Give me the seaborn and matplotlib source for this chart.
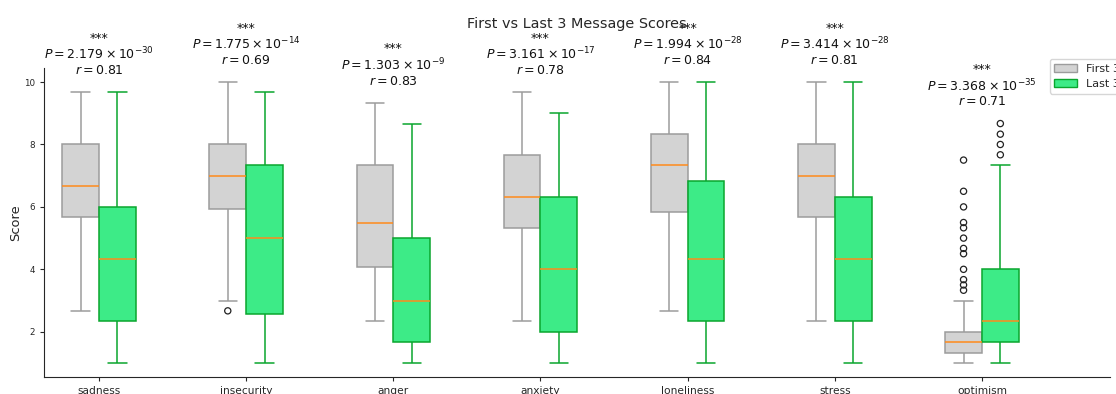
import numpy as np
import pandas as pd
import matplotlib
matplotlib.use("Agg")
import matplotlib.pyplot as plt
import seaborn as sns
from matplotlib.patches import Patch

# ---------------- data ----------------
categories = ["sadness", "insecurity", "anger", "anxiety", "loneliness", "stress", "optimism"]
groups = ["First 3 Messages", "Last 3 Messages"]

# five-number summaries: whisker low, Q1, median, Q3, whisker high
first_lo = [2.67, 3.00, 2.33, 2.33, 2.67, 2.33, 1.00]
first_q1 = [5.67, 5.92, 4.08, 5.33, 5.83, 5.67, 1.33]
first_med = [6.67, 7.00, 5.50, 6.33, 7.33, 7.00, 1.67]
first_q3 = [8.00, 8.00, 7.33, 7.67, 8.33, 8.00, 2.00]
first_hi = [9.67, 10.00, 9.33, 9.67, 10.00, 10.00, 3.00]

last_lo = [1.00, 1.00, 1.00, 1.00, 1.00, 1.00, 1.00]
last_q1 = [2.33, 2.58, 1.67, 2.00, 2.33, 2.33, 1.67]
last_med = [4.33, 5.00, 3.00, 4.00, 4.33, 4.33, 2.33]
last_q3 = [6.00, 7.33, 5.00, 6.33, 6.83, 6.33, 4.00]
last_hi = [9.67, 9.67, 8.67, 9.00, 10.00, 10.00, 7.33]

# outliers
first_outlier_cat = ["insecurity"] + ["optimism"] * 12
first_outlier_val = [2.67, 7.50, 6.50, 6.00, 5.50, 5.33, 5.00, 4.67, 4.50, 4.00, 3.67, 3.50, 3.33]
last_outlier_cat = ["optimism"] * 4
last_outlier_val = [8.67, 8.33, 8.00, 7.67]

# statistics annotations
p_mantissa = [2.179, 1.775, 1.303, 3.161, 1.994, 3.414, 3.368]
p_exponent = [-30, -14, -9, -17, -28, -28, -35]
r_values = [0.81, 0.69, 0.83, 0.78, 0.84, 0.81, 0.71]

# ---------------- styling ----------------
fill_colors = {groups[0]: "#d3d3d3", groups[1]: "#3deb87"}
edge_colors = {groups[0]: "#9c9c9c", groups[1]: "#0aa62e"}
median_color = "#ff8a1c"

sns.set_style("ticks")
plt.rcParams["font.family"] = ["DejaVu Sans"]

rows = []
summaries = {
    groups[0]: (first_lo, first_q1, first_med, first_q3, first_hi),
    groups[1]: (last_lo, last_q1, last_med, last_q3, last_hi),
}
for g, arrs in summaries.items():
    for i, c in enumerate(categories):
        for arr in arrs:
            rows.append({"category": c, "group": g, "score": arr[i]})
df = pd.DataFrame(rows)

fig = plt.figure(figsize=(11.16, 3.94), dpi=100)
ax = fig.add_axes([0.0394, 0.0431, 0.9552, 0.7843])

for g in groups:
    sub = df[df["group"] == g]
    sns.boxplot(
        data=sub, x="category", y="score", hue="group",
        order=categories, hue_order=groups, palette=fill_colors,
        saturation=1, width=0.5, dodge=True, whis=(0, 100),
        linecolor=edge_colors[g], linewidth=1.1, legend=False, ax=ax,
        medianprops={"color": median_color, "linewidth": 1.1},
    )

# outliers (hollow circles) at the dodged box positions
offsets = {groups[0]: -0.125, groups[1]: 0.125}
for g, cats, vals in [(groups[0], first_outlier_cat, first_outlier_val),
                      (groups[1], last_outlier_cat, last_outlier_val)]:
    xs = [categories.index(c) + offsets[g] for c in cats]
    sns.scatterplot(x=xs, y=vals, marker="o", s=20, facecolor="none",
                    edgecolor="#222222", linewidth=0.9, ax=ax, legend=False)

# annotation above each pair
all_hi = []
for i, c in enumerate(categories):
    vals = [first_hi[i], last_hi[i]]
    vals += [v for cc, v in zip(first_outlier_cat, first_outlier_val) if cc == c]
    vals += [v for cc, v in zip(last_outlier_cat, last_outlier_val) if cc == c]
    all_hi.append(max(vals))

for i, c in enumerate(categories):
    lines = ["***",
             rf"$P = {p_mantissa[i]:.3f} \times 10^{{{p_exponent[i]}}}$",
             rf"$r = {r_values[i]:.2f}$"]
    for k, (line, dy) in enumerate(zip(lines, [38.9, 27.4, 15.8])):
        ax.annotate(line, xy=(i, all_hi[i]), xytext=(0, dy), textcoords="offset points",
                    ha="center", va="center", fontsize=9.0, color="#111111")

ax.set_xlim(-0.374, 6.87)
ax.set_xlabel("")
ax.set_ylabel("Score", fontsize=9.4, labelpad=1)
ax.set_title("First vs Last 3 Message Scores", fontsize=10.4, pad=29)
ax.tick_params(axis="x", labelsize=7.7, length=3)
ax.tick_params(axis="y", labelsize=6.3, length=3)
sns.despine(ax=ax)

handles = [Patch(facecolor=fill_colors[g], edgecolor=edge_colors[g], label=g) for g in groups]
fig.legend(handles=handles, loc="upper left", bbox_to_anchor=(0.9409, 0.850),
           borderaxespad=0, fontsize=8, frameon=True)

fig.savefig("out.png", dpi=100)
